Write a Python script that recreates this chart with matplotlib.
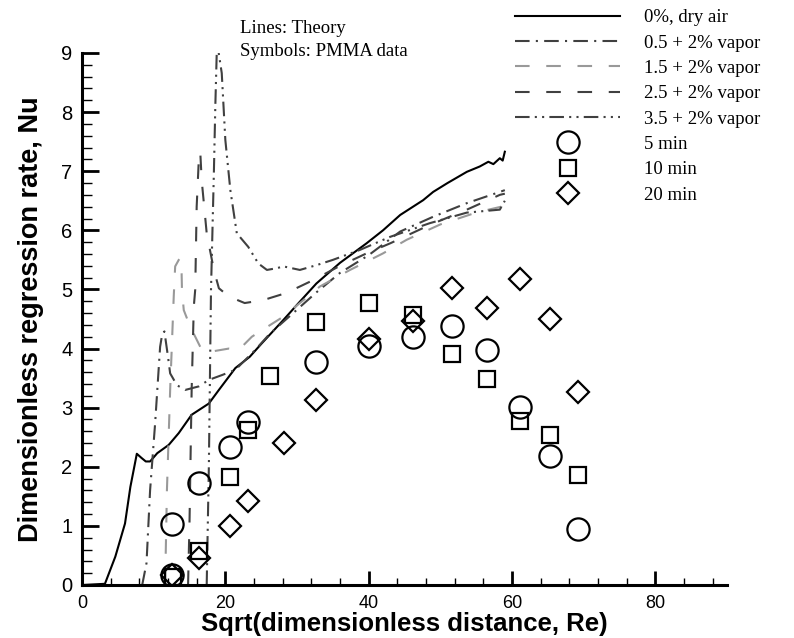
import matplotlib
matplotlib.use("Agg")
import matplotlib.pyplot as plt
from matplotlib.lines import Line2D
from matplotlib.ticker import MultipleLocator

# theory curves
dry_x = [0, 3.2, 4.65, 6.0, 6.75, 7.65, 8.3, 8.9, 9.5, 10.5, 12.1, 13.5, 15.3, 17.7,
         19.1, 21.4, 23.4, 25.1, 28.0, 30.0, 32.7, 36.0, 39.7, 42.0, 44.4, 47.6, 49.0,
         51.0, 53.7, 55.5, 56.7, 57.4, 58.3, 58.7, 59.0]
dry_y = [0, 0.02, 0.48, 1.04, 1.66, 2.22, 2.15, 2.09, 2.09, 2.23, 2.37, 2.57, 2.88, 3.07,
         3.30, 3.67, 3.86, 4.09, 4.47, 4.74, 5.10, 5.45, 5.78, 6.00, 6.26, 6.51, 6.65,
         6.80, 6.99, 7.08, 7.16, 7.12, 7.22, 7.18, 7.33]

v05_x = [8.4, 9.0, 9.5, 10.2, 10.9, 11.2, 11.5, 12.0, 12.3, 13.25, 14.4, 16.3, 17.7,
         19.5, 21.4, 24.2, 26.2, 29.0, 32.7, 36.0, 40.0, 44.4, 49.0, 53.7, 58.3, 59.0]
v05_y = [0, 0.37, 1.6, 2.73, 4.03, 4.25, 4.29, 3.86, 3.58, 3.38, 3.30, 3.36, 3.47,
         3.55, 3.64, 3.98, 4.25, 4.55, 4.95, 5.28, 5.58, 5.98, 6.23, 6.46, 6.65, 6.68]

v15_x = [11.6, 11.85, 12.3, 12.8, 13.0, 13.5, 13.7, 13.9, 13.95, 14.2, 15.1, 15.8, 16.7,
         18.1, 20.5, 21.9, 23.7, 25.1, 28.1, 33.2, 37.4, 42.0, 45.3, 50.0, 55.0, 58.5, 59.0]
v15_y = [0, 1.6, 3.3, 4.88, 5.39, 5.5, 5.53, 5.27, 4.99, 4.65, 4.37, 4.20, 3.98,
         3.95, 4.00, 3.98, 4.20, 4.31, 4.54, 5.05, 5.33, 5.61, 5.84, 6.10, 6.30, 6.40, 6.55]

v25_x = [14.8, 15.0, 15.3, 15.6, 15.8, 16.0, 16.3, 16.5, 16.7, 17.4, 18.4, 19.1, 20.5,
         22.7, 25.3, 28.5, 32.3, 36.0, 39.7, 43.0, 48.5, 53.7, 58.3, 59.0]
v25_y = [0, 1.05, 3.3, 4.71, 5.0, 6.4, 7.2, 7.33, 6.85, 5.95, 5.33, 5.02, 4.88,
         4.77, 4.82, 4.94, 5.16, 5.40, 5.61, 5.78, 6.09, 6.35, 6.60, 6.62]

v35_x = [17.4, 17.7, 18.0, 18.4, 18.6, 18.8, 19.05, 19.5, 20.0, 20.7, 21.6, 23.2, 24.6,
         25.8, 27.2, 28.1, 30.4, 32.7, 35.0, 38.8, 43.0, 48.5, 53.7, 58.3, 59.0]
v35_y = [0, 2.0, 4.99, 6.97, 8.09, 9.0, 9.02, 8.66, 7.53, 6.68, 5.95, 5.72, 5.44,
         5.33, 5.36, 5.39, 5.33, 5.41, 5.50, 5.67, 5.89, 6.12, 6.30, 6.35, 6.50]

# PMMA data
m5_x = [12.6, 12.6, 16.3, 20.6, 23.1, 32.6, 40.0, 46.2, 51.6, 56.5, 61.1, 65.3, 69.2]
m5_y = [1.03, 0.17, 1.73, 2.34, 2.76, 3.78, 4.04, 4.20, 4.38, 3.98, 3.01, 2.18, 0.95]
m10_x = [12.7, 16.3, 20.6, 23.1, 26.3, 32.6, 40.0, 46.2, 51.6, 56.5, 61.1, 65.3, 69.2]
m10_y = [0.14, 0.58, 1.82, 2.62, 3.54, 4.45, 4.77, 4.57, 3.91, 3.49, 2.77, 2.54, 1.86]
m20_x = [12.6, 16.3, 20.6, 23.1, 28.2, 32.6, 40.0, 46.2, 51.6, 56.5, 61.1, 65.3, 69.2]
m20_y = [0.17, 0.45, 1.00, 1.42, 2.41, 3.13, 4.16, 4.47, 5.03, 4.68, 5.17, 4.50, 3.26]

line_labels = ["0%, dry air", "0.5 + 2% vapor", "1.5 + 2% vapor", "2.5 + 2% vapor", "3.5 + 2% vapor"]
sym_labels = ["5 min", "10 min", "20 min"]

dark = "#404040"
light = "#999999"

fig = plt.figure(figsize=(7.94, 6.38), dpi=100)
ax = fig.add_axes([82/794, 1-585/638, (727-82)/794, (585-53)/638])

lw = 1.5
ax.plot(dry_x, dry_y, color="black", lw=lw, ls="-")
ax.plot(v05_x, v05_y, color=dark, lw=lw, ls=(0, (7, 3, 1, 3)))
ax.plot(v15_x, v15_y, color=light, lw=lw, ls=(0, (7, 8)))
ax.plot(v25_x, v25_y, color=dark, lw=lw, ls=(0, (7, 8)))
ax.plot(v35_x, v35_y, color=dark, lw=lw, ls=(0, (7, 2.5, 1, 2.5, 1, 2.5)))

mk = dict(ls="none", mfc="none", mec="black", mew=1.6)
ax.plot(m5_x, m5_y, marker="o", ms=16, **mk)
ax.plot(m10_x, m10_y, marker="s", ms=12, **mk)
ax.plot(m20_x, m20_y, marker="D", ms=11, **mk)

ax.set_xlim(0, 90)
ax.set_ylim(0, 9)
for s in ["top", "right"]:
    ax.spines[s].set_visible(False)
for s in ["left", "bottom"]:
    ax.spines[s].set_linewidth(2.2)
ax.xaxis.set_major_locator(MultipleLocator(20))
ax.xaxis.set_minor_locator(MultipleLocator(4))
ax.yaxis.set_major_locator(MultipleLocator(1))
ax.yaxis.set_minor_locator(MultipleLocator(0.2))
ax.tick_params(axis="y", which="major", direction="in", length=12, width=2, pad=7)
ax.tick_params(axis="y", which="minor", direction="in", length=7, width=1)
ax.tick_params(axis="x", which="major", direction="in", length=10, width=2, pad=7)
ax.tick_params(axis="x", which="minor", direction="in", length=5, width=1)
for t in ax.get_xticklabels():
    t.set_fontfamily("Liberation Sans"); t.set_fontsize(13)
for t in ax.get_yticklabels():
    t.set_fontfamily("Liberation Sans"); t.set_fontsize(14.5)

ax.set_xlabel("Sqrt(dimensionless distance, Re)", family="Liberation Sans",
              fontweight="bold", fontsize=18.5, labelpad=0)
ax.set_ylabel("Dimensionless regression rate, Nu", family="Liberation Sans",
              fontweight="bold", fontsize=19.5, labelpad=12)

handles = [
    Line2D([], [], color="black", lw=lw, ls="-"),
    Line2D([], [], color=dark, lw=lw, ls=(0, (7, 3, 1, 3))),
    Line2D([], [], color=light, lw=lw, ls=(0, (7, 8))),
    Line2D([], [], color=dark, lw=lw, ls=(0, (7, 8))),
    Line2D([], [], color=dark, lw=lw, ls=(0, (7, 2.5, 1, 2.5, 1, 2.5))),
    Line2D([], [], marker="o", ms=16, **mk),
    Line2D([], [], marker="s", ms=12, **mk),
    Line2D([], [], marker="D", ms=11, **mk),
]
leg = ax.legend(handles, line_labels + sym_labels, loc="upper left",
                bbox_to_anchor=(515/794, 1-9/638), bbox_transform=fig.transFigure,
                frameon=False, numpoints=1, handlelength=5.6, handletextpad=1.3,
                labelspacing=0.44, borderaxespad=0, borderpad=0,
                prop={"family": "Liberation Serif", "size": 13.5})

fig.text(240/794, 1-40/638, "Lines: Theory\nSymbols: PMMA data", family="Liberation Serif",
         fontsize=13.5, va="center", ha="left", linespacing=1.4)

fig.savefig("out.png", dpi=100)
